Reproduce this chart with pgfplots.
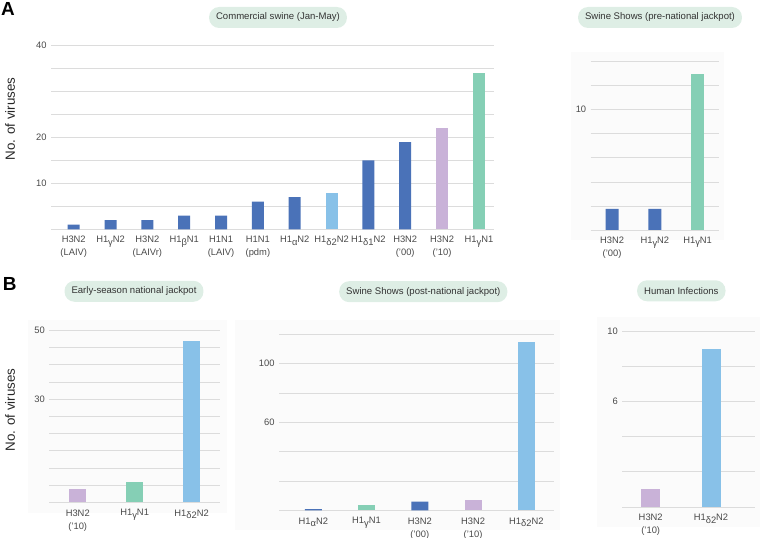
\documentclass[border=0pt]{standalone}
\usepackage{pgfplots}
\pgfplotsset{compat=1.18}
\usepackage{fontspec}
\setmainfont{Liberation Sans}

\definecolor{dblue}{HTML}{4A72B8}
\definecolor{lblue}{HTML}{88C1E8}
\definecolor{lav}{HTML}{C9B2D8}
\definecolor{teal}{HTML}{85CFB5}
\definecolor{boxc}{HTML}{DEEEE5}
\definecolor{gridc}{HTML}{DCDCDC}
\definecolor{txt}{HTML}{4A4A4A}
\definecolor{bgc}{HTML}{FBFBFB}

\newcommand\sub[1]{\raisebox{-0.5ex}{#1}}
\newcommand\ticfont{\fontsize{9.4}{13}\selectfont}

\pgfplotsset{
  panel/.style={
    scale only axis, anchor=south west,
    ybar, bar shift=0pt,
    ymin=0, enlarge x limits=false, enlarge y limits=false,
    axis line style={draw=none},
    major tick length=0pt, minor tick length=0pt,
    tick style={draw=none},
    ymajorgrids, yminorgrids,
    major grid style={gridc, line width=0.8bp},
    minor grid style={gridc, line width=0.8bp},
    xticklabel style={align=center, font=\ticfont, text=txt, yshift=-3.5bp},
    yticklabel style={font=\ticfont, text=txt, xshift=-1bp},
    /pgf/number format/assume math mode=true,
    every axis plot/.append style={draw=none},
  },
}
\tikzset{
  ttl/.style={fill=boxc, rounded corners=10bp, minimum height=21bp,
    inner xsep=7bp, font=\fontsize{9.6}{11}\selectfont, text=black!80},
}

\begin{document}
\begin{tikzpicture}[x=1bp, y=1bp]
\useasboundingbox (0,0) rectangle (760,538);

% faint panel backgrounds
\fill[bgc] (571,298) rectangle (724,486);
\fill[bgc] (28,25) rectangle (227,218);
\fill[bgc] (235,8) rectangle (560,218);
\fill[bgc] (597,11) rectangle (760,221);

% ---------- A: commercial swine ----------
\begin{axis}[panel, at={(51bp,308.7bp)}, width=443bp, height=183.6bp,
  xmin=-0.617, xmax=11.41, ymax=40,
  ytick={10,20,40}, minor ytick={0,5,...,40},
  bar width=12bp,
  xtick={0,...,11},
  xticklabels={{H3N2\\(LAIV)}, H1\sub{γ}N2, {H3N2\\(LAIVr)}, H1\sub{β}N1,
    {H1N1\\(LAIV)}, {H1N1\\(pdm)}, H1\sub{α}N2, H1\sub{δ2}N2, H1\sub{δ1}N2,
    {H3N2\\('00)}, {H3N2\\('10)}, H1\sub{γ}N1}]
\addplot[fill=dblue] coordinates {(0,1) (1,2) (2,2) (3,3) (4,3) (5,6) (6,7) (8,15) (9,19)};
\addplot[fill=lblue] coordinates {(7,8)};
\addplot[fill=lav] coordinates {(10,22)};
\addplot[fill=teal] coordinates {(11,34)};
\end{axis}

% ---------- A: swine shows pre ----------
\begin{axis}[panel, at={(590.7bp,308bp)}, width=128.3bp, height=168.3bp,
  xmin=-0.5, xmax=2.5, ymax=14,
  ytick={10}, minor ytick={0,2,...,14},
  bar width=13bp,
  xtick={0,1,2},
  xticklabels={{H3N2\\('00)}, H1\sub{γ}N2, H1\sub{γ}N1}]
\addplot[fill=dblue] coordinates {(0,1.75) (1,1.75)};
\addplot[fill=teal] coordinates {(2,13)};
\end{axis}

% ---------- B: early-season ----------
\begin{axis}[panel, at={(49.3bp,35.5bp)}, width=170.7bp, height=172.2bp,
  xmin=-0.5, xmax=2.5, ymax=50,
  ytick={30,50}, minor ytick={0,5,...,50},
  bar width=17bp,
  xtick={0,1,2},
  xticklabels={{H3N2\\('10)}, H1\sub{γ}N1, H1\sub{δ2}N2}]
\addplot[fill=lav] coordinates {(0,4)};
\addplot[fill=teal] coordinates {(1,6)};
\addplot[fill=lblue] coordinates {(2,47)};
\end{axis}

% ---------- B: swine shows post ----------
\begin{axis}[panel, at={(279bp,27.5bp)}, width=275.3bp, height=176.2bp,
  xmin=-0.644, xmax=4.526, ymax=120,
  ytick={60,100}, minor ytick={0,20,...,120},
  bar width=17bp,
  xtick={0,...,4},
  xticklabels={H1\sub{α}N2, H1\sub{γ}N1, {H3N2\\('00)}, {H3N2\\('10)}, H1\sub{δ2}N2}]
\addplot[fill=dblue] coordinates {(0,1) (2,6)};
\addplot[fill=teal] coordinates {(1,4)};
\addplot[fill=lav] coordinates {(3,7)};
\addplot[fill=lblue] coordinates {(4,115)};
\end{axis}

% ---------- B: human infections ----------
\begin{axis}[panel, at={(622.3bp,31bp)}, width=132.7bp, height=175.7bp,
  xmin=-0.471, xmax=1.73, ymax=10,
  ytick={6,10}, minor ytick={0,2,...,10},
  bar width=19bp,
  xtick={0,1},
  xticklabels={{H3N2\\('10)}, H1\sub{δ2}N2}]
\addplot[fill=lav] coordinates {(0,1)};
\addplot[fill=lblue] coordinates {(1,9)};
\end{axis}

% titles
\node[ttl] at (278,520.5) {Commercial swine (Jan-May)};
\node[ttl] at (660,520.5) {Swine Shows (pre-national jackpot)};
\node[ttl] at (134,246.7) {Early-season national jackpot};
\node[ttl] at (423.3,246.3) {Swine Shows (post-national jackpot)};
\node[ttl] at (681.3,247.2) {Human Infections};

% y labels
\node[rotate=90, font=\fontsize{13.4}{15}\selectfont, text=black!85] at (10,419) {No. of viruses};
\node[rotate=90, font=\fontsize{13.4}{15}\selectfont, text=black!85] at (10,128) {No. of viruses};

% panel letters
\node[font=\bfseries\fontsize{19}{21}\selectfont, inner sep=0pt] at (8,529.5) {A};
\node[font=\bfseries\fontsize{19}{21}\selectfont, inner sep=0pt] at (9.7,254) {B};
\end{tikzpicture}
\end{document}
